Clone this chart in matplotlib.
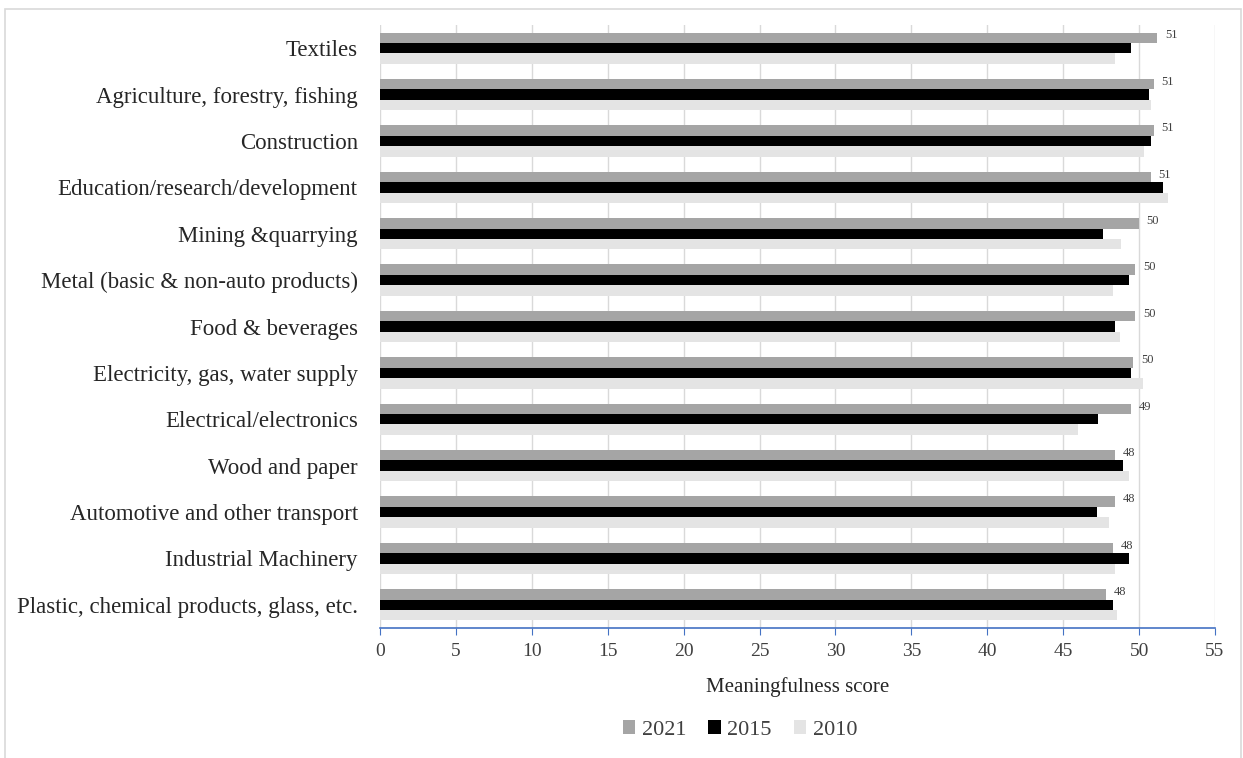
import matplotlib.pyplot as plt
import matplotlib.patches as mpatches
import numpy as np

sectors = ['Textiles', 'Agriculture, forestry, fishing', 'Construction',
           'Education/research/development', 'Mining &quarrying',
           'Metal (basic & non-auto products)', 'Food & beverages',
           'Electricity, gas, water supply', 'Electrical/electronics',
           'Wood and paper', 'Automotive and other transport',
           'Industrial Machinery', 'Plastic, chemical products, glass, etc.']
y2021 = [51.2, 50.97, 50.97, 50.76, 50.0, 49.76, 49.76, 49.63, 49.45, 48.43, 48.43, 48.3, 47.8]
y2015 = [49.45, 50.67, 50.76, 51.59, 47.6, 49.34, 48.43, 49.45, 47.3, 48.97, 47.2, 49.36, 48.3]
y2010 = [48.4, 50.76, 50.34, 51.88, 48.83, 48.29, 48.72, 50.25, 45.97, 49.36, 48.0, 48.43, 48.55]
years = ['2021', '2015', '2010']
colors = ['#a5a5a5', '#000000', '#e4e4e4']

plt.rcParams['font.family'] = ['Liberation Serif', 'DejaVu Serif']

fig = plt.figure(figsize=(12.43, 7.58), dpi=100)
ax = fig.add_axes([380/1243, 1-628/758, (1215-380)/1243, (628-25)/758])

# chart border like the excel frame
fig.patches.append(mpatches.Rectangle((5/1243, -0.05), (1241-5)/1243, 1.05-9/758,
                                      transform=fig.transFigure, fill=False,
                                      edgecolor='#d9d9d9', linewidth=1.2))

pos = np.arange(len(sectors))
h = 0.225
for k, (vals, lab, c) in enumerate(zip([y2021, y2015, y2010], years, colors)):
    ax.barh(pos + (k-1)*h, vals, height=h, color=c, label=lab, zorder=2)

for i, v in enumerate(y2021):
    ax.text(v + 0.5, pos[i] - h - 0.05, '%.0f' % v, fontsize=9,
            color='#404040', va='center', ha='left')

ax.set_ylim(len(sectors)-0.5, -0.5)
ax.set_xlim(0, 55)
ax.set_xticks(np.arange(0, 56, 5))
ax.set_yticks(pos)
ax.set_yticklabels(sectors, fontsize=16.5, color='#262626')
ax.tick_params(axis='y', length=0, pad=16)
ax.tick_params(axis='x', direction='out', length=5, color='#4472c4',
               labelsize=14, labelcolor='#404040', pad=6)
ax.grid(axis='x', color='#d9d9d9', linewidth=1, zorder=0)
for s in ['top', 'right', 'left']:
    ax.spines[s].set_visible(False)
ax.spines['bottom'].set_color('#4472c4')
ax.spines['bottom'].set_linewidth(1.2)
ax.set_axisbelow(True)

ax.set_xlabel('Meaningfulness score', fontsize=15, color='#262626', labelpad=12)

fig.legend(loc='center', bbox_to_anchor=(740/1243, 1-730/758), ncol=3,
           frameon=False, fontsize=16, handlelength=0.55, handleheight=0.55,
           handletextpad=0.3, columnspacing=1.0, labelcolor='#404040')

fig.savefig('out.png', dpi=100)
